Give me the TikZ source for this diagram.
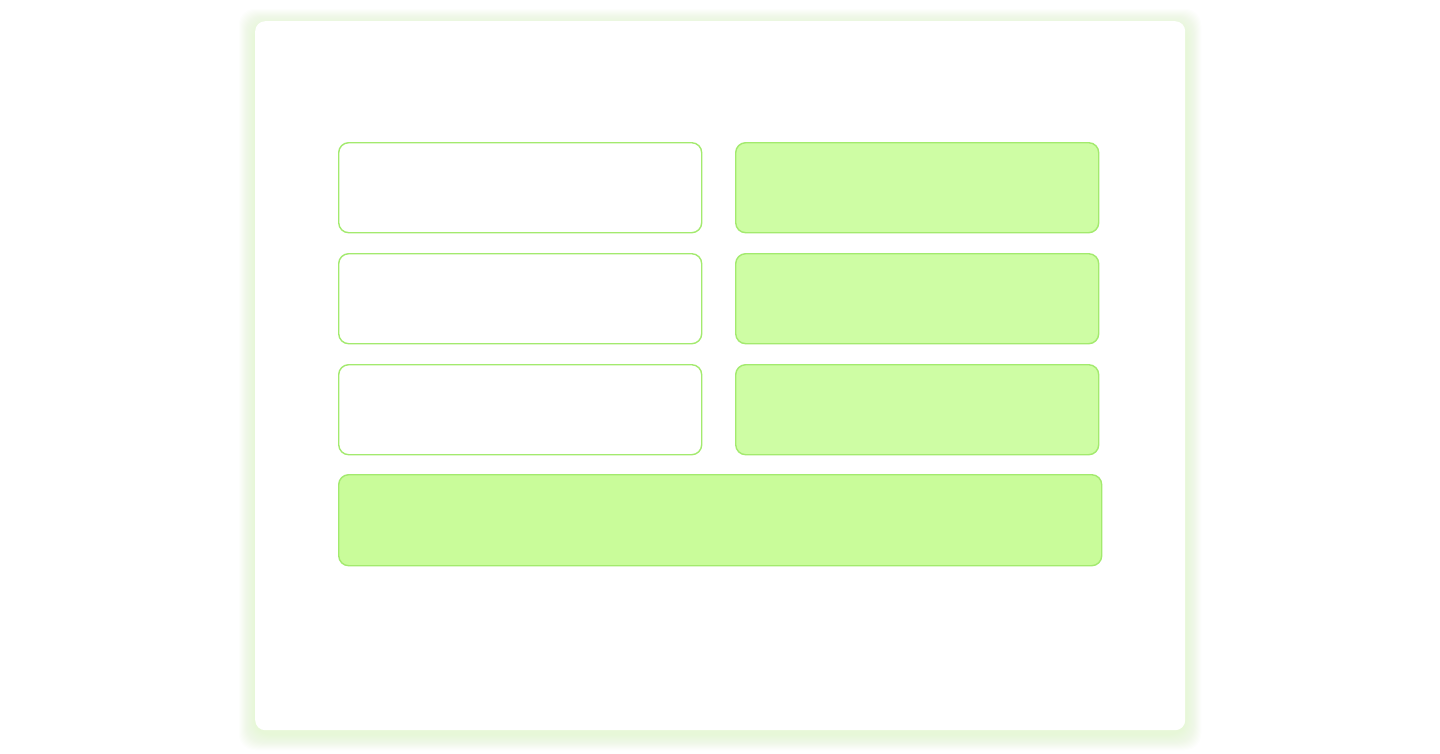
\documentclass[tikz,border=0pt]{standalone}
\definecolor{edgegreen}{HTML}{A3EA6E}
\definecolor{fillgreen}{HTML}{CEFDA4}
\definecolor{fillgreenb}{HTML}{C9FC9A}
\definecolor{glow}{HTML}{D8F7BE}
\tikzset{
  box/.style={draw=edgegreen, line width=1.4pt, rounded corners=10pt, minimum width=363pt, minimum height=90pt, inner sep=0pt, anchor=north west},
  filledbox/.style={box, fill=fillgreen},
  widebox/.style={box, fill=fillgreenb, minimum width=763pt, minimum height=91pt},
}
\begin{document}
\begin{tikzpicture}[x=1pt,y=-1pt]
\useasboundingbox (0,0) rectangle (1440,753);
\fill[white] (0,0) rectangle (1440,753);
% glow shadow of the panel
\foreach \i in {16,15,...,1}{
  \fill[glow, opacity=0.045, rounded corners=16pt] (255-\i,21-\i+4) rectangle (1185+\i,730+\i+4);
}
\node[fill=white, rounded corners=10pt, inner sep=0pt, minimum width=930pt, minimum height=709pt, anchor=north west] (panel) at (255,21) {};
% left column
\node[box] (l1) at (338,142) {};
\node[box] (l2) at (338,253) {};
\node[box] (l3) at (338,364) {};
% right column
\node[filledbox] (r1) at (735,142) {};
\node[filledbox] (r2) at (735,253) {};
\node[filledbox] (r3) at (735,364) {};
% bottom wide
\node[widebox] (b) at (338,474) {};
\end{tikzpicture}
\end{document}
